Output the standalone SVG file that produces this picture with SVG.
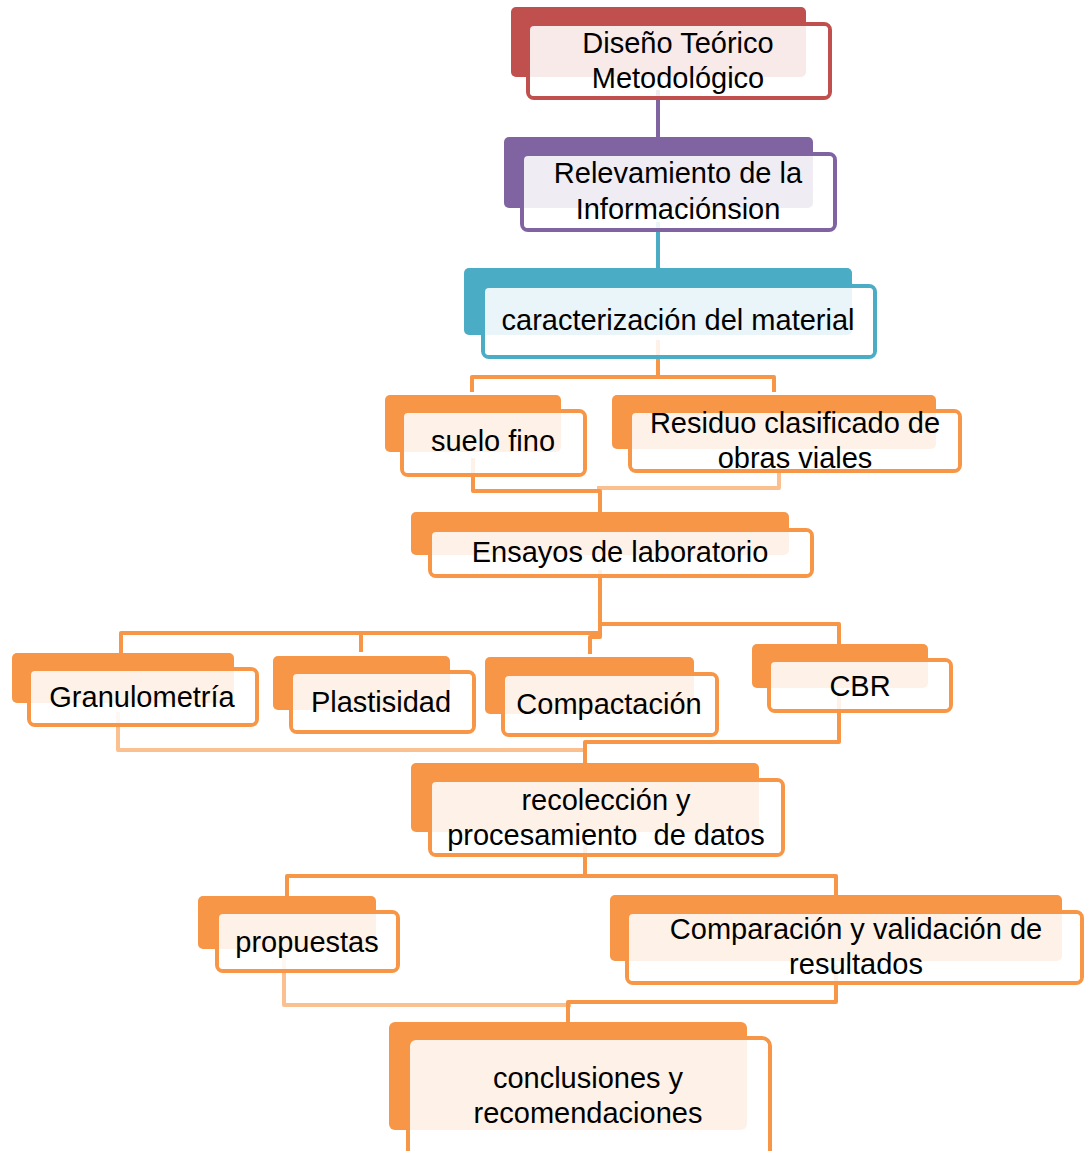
<svg xmlns="http://www.w3.org/2000/svg" width="1085" height="1151" viewBox="0 0 1085 1151">
<style>
.ln{fill:none;stroke-width:4;stroke-linejoin:round}
.lo{stroke:#F79646}.lp{stroke:#FAC090}
.fs{fill:none;stroke-width:4}
.ff{fill:#ffffff;fill-opacity:0.88;stroke:none}
.o .fs{stroke:#F79646}.o .bk{fill:#F79646}
.r .fs{stroke:#C0504D}.r .bk{fill:#C0504D}
.p .fs{stroke:#8064A2}.p .bk{fill:#8064A2}
.t .fs{stroke:#4BACC6}.t .bk{fill:#4BACC6}
text{font-family:"Liberation Sans",Arial,sans-serif;font-size:29px;fill:#000;text-anchor:middle}
</style>
<g id="connectors">
<path class="ln" stroke="#8064A2" d="M658,90 V156"/>
<path class="ln" stroke="#4BACC6" d="M658,222 V288"/>
<path class="ln lo" d="M658,340 V377 H472 V392 M658,377 H774 V392"/>
<path class="ln lp" d="M779,455 V488 H597"/>
<path class="ln lo" d="M473,458 V491 H600 V514"/>
<path class="ln lo" d="M600,570 V637 H590 V654 M600,633 H121 V655 M361,633 V652 M600,624 H839 V646"/>
<path class="ln lp" d="M118,712 V750 H585"/>
<path class="ln lo" d="M839,695 V742 H585 V765"/>
<path class="ln lo" d="M585,845 V876 H287 V898 M585,876 H836 V898"/>
<path class="ln lp" d="M284,955 V1005 H571"/>
<path class="ln lo" d="M836,965 V1002 H568 V1024"/>
</g>
<g id="n1" class="r">
<rect class="fs" x="528" y="24" width="302" height="74" rx="6"/>
<rect class="bk" x="511" y="7" width="295" height="70" rx="5"/>
<rect class="ff" x="530" y="26" width="298" height="70" rx="4"/>
<text x="678" y="53">Diseño Teórico</text>
<text x="678" y="88">Metodológico</text>
</g>
<g id="n2" class="p">
<rect class="fs" x="522" y="154" width="313" height="76" rx="6"/>
<rect class="bk" x="504" y="137" width="309" height="71" rx="5"/>
<rect class="ff" x="524" y="156" width="309" height="72" rx="4"/>
<text x="678" y="183">Relevamiento de la</text>
<text x="678" y="219">Informaciónsion</text>
</g>
<g id="n3" class="t">
<rect class="fs" x="483" y="286" width="392" height="71" rx="6"/>
<rect class="bk" x="464" y="268" width="388" height="67" rx="5"/>
<rect class="ff" x="485" y="288" width="388" height="67" rx="4"/>
<text x="678" y="330">caracterización del material</text>
</g>
<g id="n-suelo" class="o">
<rect class="fs" x="402" y="411" width="183" height="64" rx="6"/>
<rect class="bk" x="385" y="395" width="176" height="57" rx="5"/>
<rect class="ff" x="404" y="413" width="179" height="60" rx="4"/>
<text x="493" y="451">suelo fino</text>
</g>
<g id="n-residuo" class="o">
<rect class="fs" x="630" y="411" width="330" height="60" rx="6"/>
<rect class="bk" x="612" y="395" width="324" height="54" rx="5"/>
<rect class="ff" x="632" y="413" width="326" height="56" rx="4"/>
<text x="795" y="433">Residuo clasificado de</text>
<text x="795" y="468">obras viales</text>
</g>
<g id="n-ensayos" class="o">
<rect class="fs" x="430" y="530" width="382" height="46" rx="6"/>
<rect class="bk" x="411" y="512" width="378" height="43" rx="5"/>
<rect class="ff" x="432" y="532" width="378" height="42" rx="4"/>
<text x="620" y="562">Ensayos de laboratorio</text>
</g>
<g id="n-granulometria" class="o">
<rect class="fs" x="29" y="669" width="228" height="56" rx="6"/>
<rect class="bk" x="12" y="653" width="222" height="50" rx="5"/>
<rect class="ff" x="31" y="671" width="224" height="52" rx="4"/>
<text x="142" y="707">Granulometría</text>
</g>
<g id="n-plastisidad" class="o">
<rect class="fs" x="291" y="672" width="183" height="60" rx="6"/>
<rect class="bk" x="273" y="656" width="177" height="54" rx="5"/>
<rect class="ff" x="293" y="674" width="179" height="56" rx="4"/>
<text x="381" y="712">Plastisidad</text>
</g>
<g id="n-compactacion" class="o">
<rect class="fs" x="503" y="674" width="214" height="61" rx="6"/>
<rect class="bk" x="485" y="657" width="209" height="57" rx="5"/>
<rect class="ff" x="505" y="676" width="210" height="57" rx="4"/>
<text x="609" y="714">Compactación</text>
</g>
<g id="n-cbr" class="o">
<rect class="fs" x="769" y="660" width="182" height="51" rx="6"/>
<rect class="bk" x="752" y="644" width="176" height="44" rx="5"/>
<rect class="ff" x="771" y="662" width="178" height="47" rx="4"/>
<text x="860" y="696">CBR</text>
</g>
<g id="n-recoleccion" class="o">
<rect class="fs" x="430" y="780" width="353" height="75" rx="6"/>
<rect class="bk" x="411" y="763" width="348" height="69" rx="5"/>
<rect class="ff" x="432" y="782" width="349" height="71" rx="4"/>
<text x="606" y="810">recolección y</text>
<text x="606" y="845" style="white-space:pre">procesamiento  de datos</text>
</g>
<g id="n-propuestas" class="o">
<rect class="fs" x="217" y="912" width="181" height="59" rx="6"/>
<rect class="bk" x="198" y="896" width="178" height="53" rx="5"/>
<rect class="ff" x="219" y="914" width="177" height="55" rx="4"/>
<text x="307" y="952">propuestas</text>
</g>
<g id="n-comparacion" class="o">
<rect class="fs" x="627" y="912" width="455" height="71" rx="6"/>
<rect class="bk" x="610" y="895" width="452" height="66" rx="5"/>
<rect class="ff" x="629" y="914" width="451" height="67" rx="4"/>
<text x="856" y="939">Comparación y validación de</text>
<text x="856" y="974">resultados</text>
</g>
<g id="n-conclusiones" class="o">
<rect class="fs" x="408" y="1038" width="362" height="130" rx="8"/>
<rect class="bk" x="389" y="1022" width="358" height="108" rx="6"/>
<rect class="ff" x="410" y="1040" width="358" height="126" rx="6"/>
<text x="588" y="1088">conclusiones y</text>
<text x="588" y="1123">recomendaciones</text>
</g>
</svg>
